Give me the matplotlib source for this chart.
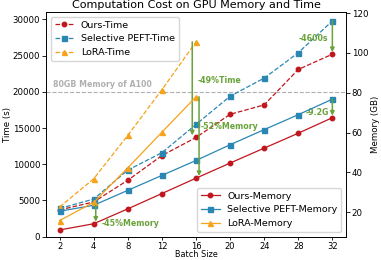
import matplotlib
matplotlib.use('Agg')
import matplotlib.pyplot as plt

batch_sizes = ['2', '4', '8', '12', '16', '20', '24', '28', '32']
ours_time = [3700, 4800, 7800, 11200, 13700, 16900, 18200, 23100, 25200]
sel_time = [3900, 5200, 9200, 11600, 15500, 19400, 21900, 25400, 29800]
lora_time = [4100, 8000, 14000, 20300, 26900]
ours_mem = [11.1, 14.2, 21.7, 29.4, 37.1, 44.7, 52.2, 59.7, 67.5]
sel_mem = [20.5, 23.5, 31.0, 38.5, 46.0, 53.9, 61.5, 69.0, 76.8]
lora_mem = [15.8, 25.0, 42.3, 60.2, 78.0]

RED = '#c0161e'
BLUE = '#2a87b3'
ORANGE = '#f7a21b'
GREEN = '#6aa33a'
GREY = '#b0b0b0'
FS = 6.2

plt.rcParams['font.family'] = ['DejaVu Sans']
fig = plt.figure(figsize=(3.81, 2.6), dpi=100)
ax = fig.add_axes([46/381, 1-236.7/260, 300/381, 224.7/260])
ax2 = ax.twinx()

x = list(range(len(batch_sizes)))
xl = x[:len(lora_time)]

l1, = ax.plot(x, ours_time, ls='--', color=RED, marker='o', ms=3.2, lw=0.9, label='Ours-Time')
l2, = ax.plot(x, sel_time, ls='--', color=BLUE, marker='s', ms=3.6, lw=0.9, label='Selective PEFT-Time')
l3, = ax.plot(xl, lora_time, ls='--', color=ORANGE, marker='^', ms=3.6, lw=0.9, label='LoRA-Time')

m1, = ax2.plot(x, ours_mem, ls='-', color=RED, marker='o', ms=3.2, lw=0.9, label='Ours-Memory')
m2, = ax2.plot(x, sel_mem, ls='-', color=BLUE, marker='s', ms=3.6, lw=0.9, label='Selective PEFT-Memory')
m3, = ax2.plot(xl, lora_mem, ls='-', color=ORANGE, marker='^', ms=3.6, lw=0.9, label='LoRA-Memory')

ax.set_xlim(-0.4, 8.4)
ax.set_ylim(0, 31030)
ax2.set_ylim(7.7, 120.6)
ax.set_xticks(x)
ax.set_xticklabels(batch_sizes)
ax.set_yticks([0, 5000, 10000, 15000, 20000, 25000, 30000])
ax2.set_yticks([20, 40, 60, 80, 100, 120])
for a in (ax, ax2):
    a.tick_params(labelsize=FS, length=2.6, width=0.6, pad=1.6)
    for s in a.spines.values():
        s.set_linewidth(0.6)
ax.tick_params(axis='x', labelsize=6.0, length=2.4, pad=1.1)

ax.set_xlabel('Batch Size', fontsize=5.9, va='bottom')
ax.xaxis.set_label_coords(0.5, -0.1)
ax.set_ylabel('Time (s)', fontsize=FS, labelpad=0.5)
ax2.set_ylabel('Memory (GB)', fontsize=FS, labelpad=2)
ax.set_title('Computation Cost on GPU Memory and Time', fontsize=8, pad=3)

ax.axhline(20000, color=GREY, ls='--', lw=0.8, zorder=0)
ax.text(-0.2, 20350, '80GB Memory of A100', color=GREY, fontsize=5.7,
        fontweight='bold', va='bottom', ha='left')

def arrow(a, xp, y0, y1):
    a.annotate('', xy=(xp, y1), xytext=(xp, y0),
               arrowprops=dict(arrowstyle='-|>', color=GREEN, lw=1.1,
                               mutation_scale=6, shrinkA=0, shrinkB=1.5))

arrow(ax, 3.89, lora_time[4], ours_time[4])
arrow(ax2, 4.09, lora_mem[4], ours_mem[4])
arrow(ax2, 1.06, sel_mem[1], ours_mem[1])
arrow(ax, 8.0, sel_time[8], ours_time[8])
arrow(ax2, 8.0, sel_mem[8], ours_mem[8])

tk = dict(color=GREEN, fontsize=5.7, fontweight='bold', va='center')
ax.text(4.055, 21540, '-49%Time', ha='left', **tk)
ax.text(4.13, 15190, '-52%Memory', ha='left', **tk)
ax.text(1.24, 1850, '-45%Memory', ha='left', **tk)
ax.text(7.886, 27400, '-4600s', ha='right', **tk)
ax.text(7.915, 17120, '-9.2G', ha='right', **tk)

ax.legend(handles=[l1, l2, l3], loc='upper left', fontsize=6.8,
          borderaxespad=0.5, handlelength=2.0)
ax2.legend(handles=[m1, m2, m3], loc='lower right', fontsize=6.8,
           borderaxespad=0.5, handlelength=2.0)

fig.savefig('out.png', dpi=100)
